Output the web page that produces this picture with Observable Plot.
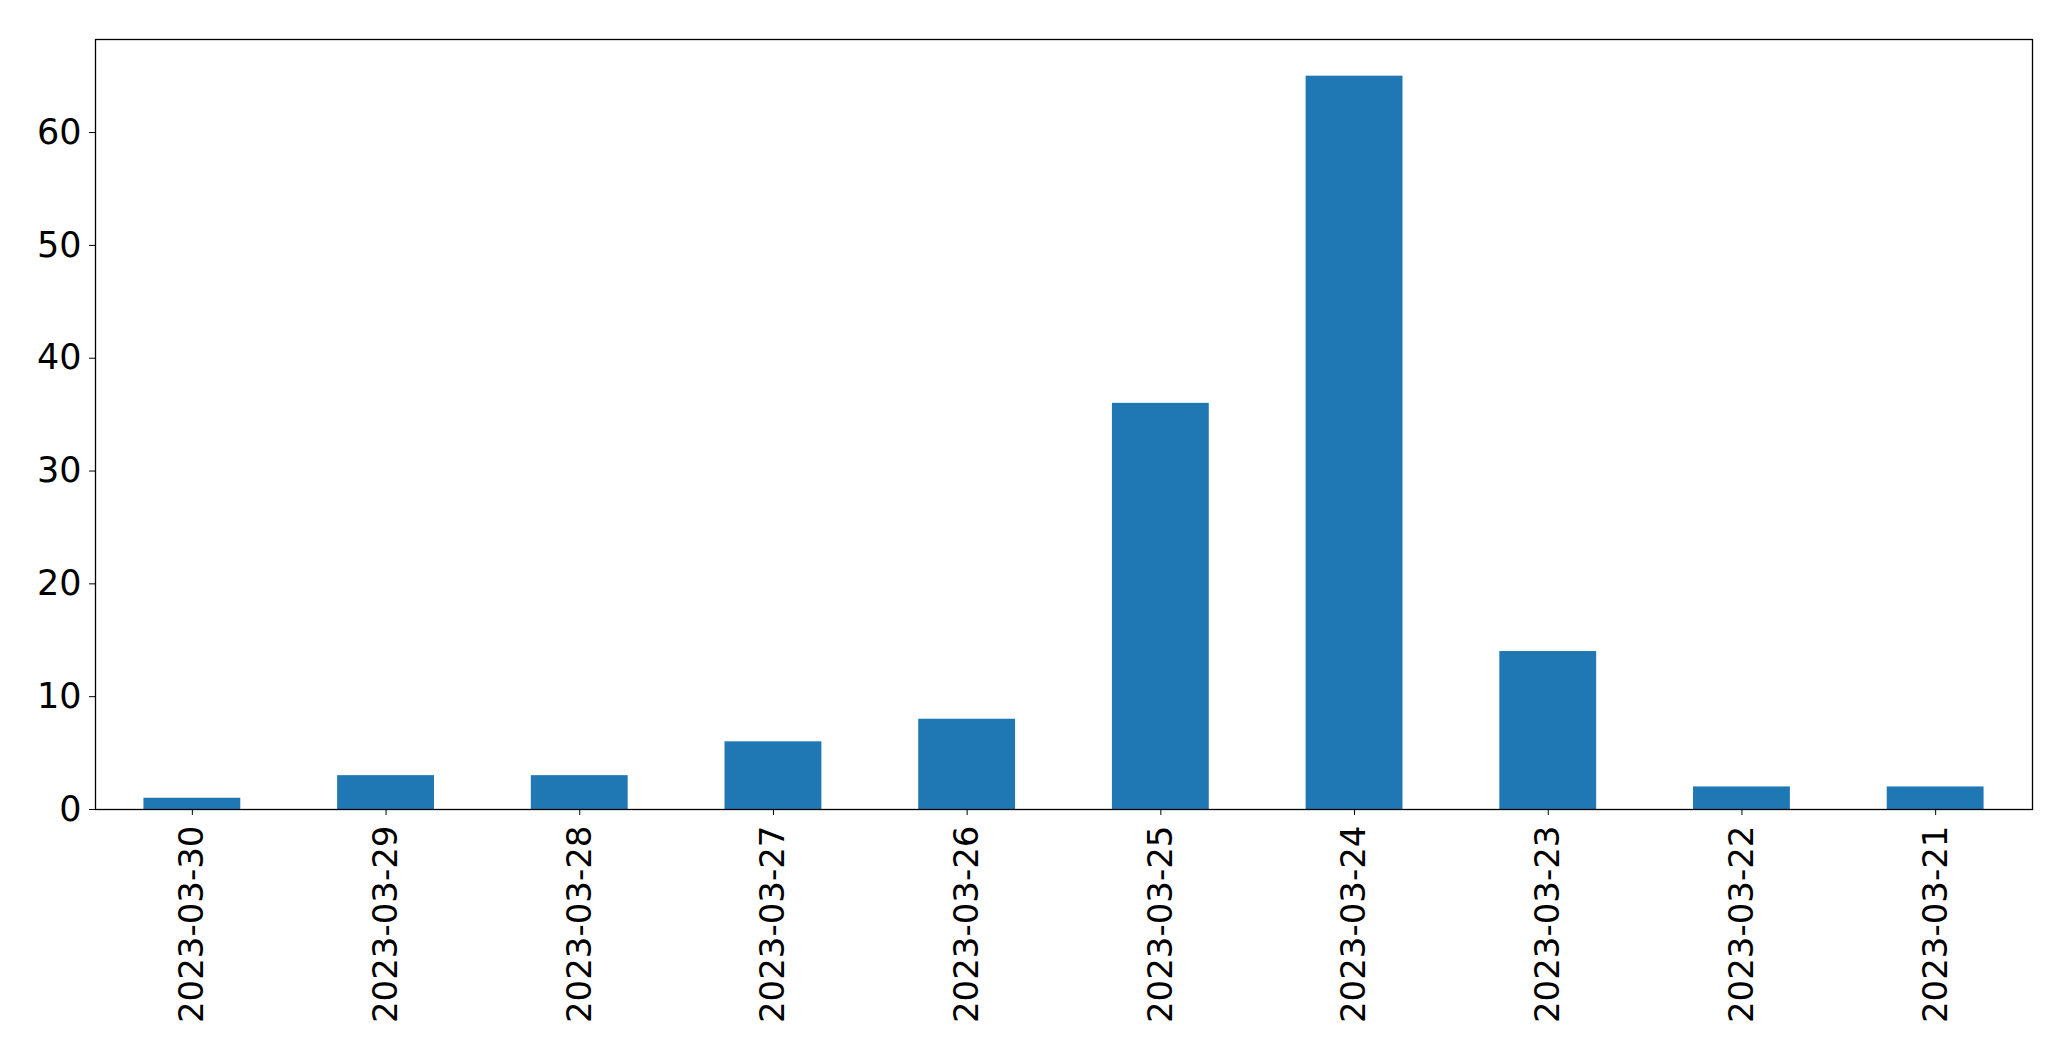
<!DOCTYPE html>
<html>
<head>
<meta charset="utf-8">
<script src="https://cdn.jsdelivr.net/npm/d3@7"></script>
<script src="https://cdn.jsdelivr.net/npm/@observablehq/plot@0.6"></script>
<style>
  html, body { margin: 0; padding: 0; background: #fff; }
  #chart svg { display: block; }
</style>
</head>
<body>
<div id="chart"></div>
<script>
const dates = ["2023-03-30", "2023-03-29", "2023-03-28", "2023-03-27", "2023-03-26",
               "2023-03-25", "2023-03-24", "2023-03-23", "2023-03-22", "2023-03-21"];
const counts = [1, 3, 3, 6, 8, 36, 65, 14, 2, 2];
const yTicks = [0, 10, 20, 30, 40, 50, 60];

const data = dates.map((d, i) => ({date: d, count: counts[i]}));

const chart = Plot.plot({
  width: 2071,
  height: 1061,
  marginLeft: 95,
  marginRight: 39,
  marginTop: 39,
  marginBottom: 252,
  style: {fontFamily: "DejaVu Sans", fontSize: "35px", color: "black", background: "white"},
  x: {type: "band", domain: dates, paddingInner: 0.5, paddingOuter: 0.25, round: false, label: null},
  y: {domain: [0, 68.25], label: null},
  marks: [
    Plot.barY(data, {x: "date", y: "count", fill: "#1f77b4"}),
    Plot.axisY({ticks: yTicks, tickSize: 6, tickPadding: 8, fontSize: 35, label: null}),
    Plot.axisX({tickRotate: -90, tickSize: 6, tickPadding: 10, fontSize: 34, label: null}),
    Plot.frame({stroke: "black", strokeWidth: 1.3})
  ]
});
document.getElementById("chart").appendChild(chart);
</script>
</body>
</html>
